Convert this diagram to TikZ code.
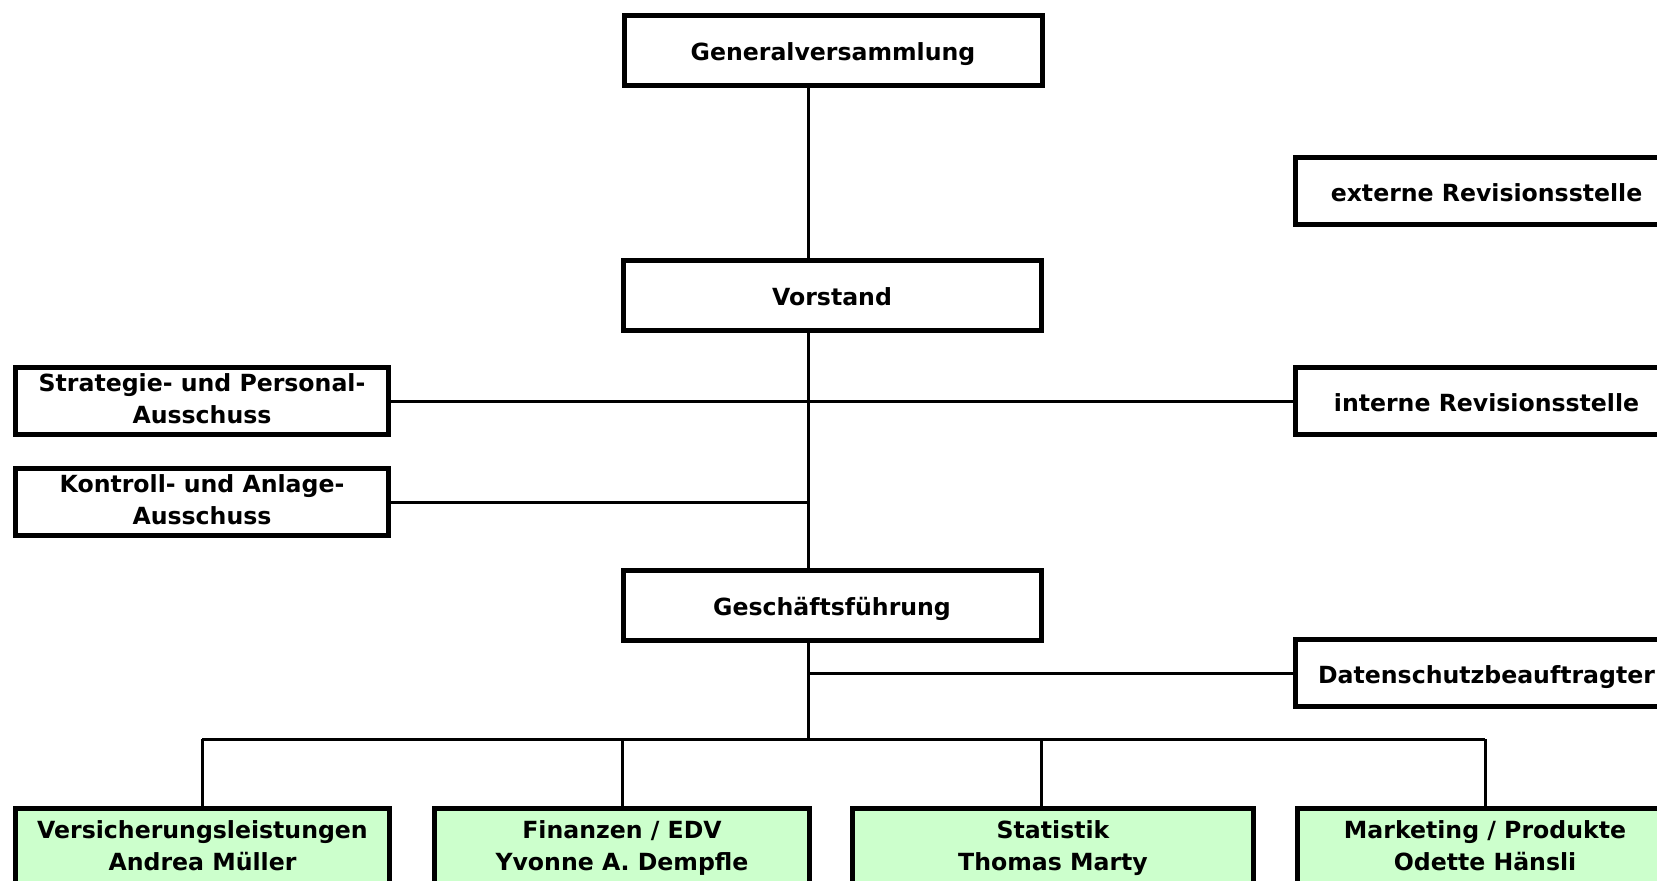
\documentclass[tikz,border=0pt]{standalone}
\usepackage{fontspec}
\setmainfont{DejaVu Sans}
\begin{document}
\begin{tikzpicture}[x=0.5pt,y=-0.5pt,
  box/.style={draw=black,line width=2.5pt,fill=white,inner sep=0pt,align=center,
    font=\fontsize{11.8}{16}\selectfont\bfseries,text=black},
  one/.style={text height=12pt,text depth=2pt},
  midbox/.style={box,one,minimum width=209pt,minimum height=35pt},
  rbox/.style={box,one,minimum width=191pt,minimum height=33.5pt},
  lbox/.style={box,minimum width=186.5pt,minimum height=33.5pt},
  unit/.style={box,fill=unitgreen,minimum height=39.5pt},
  conn/.style={line width=1.5pt,draw=black}]
\definecolor{unitgreen}{RGB}{204,255,204}
\useasboundingbox (0,0) rectangle (1657,880);
\clip (0,0) rectangle (1657,880);
\fill[white] (0,0) rectangle (1657,880);

\coordinate (m) at (808,0);
\coordinate (d1) at (202,739);
\coordinate (d2) at (622,739);
\coordinate (d3) at (1041,739);
\coordinate (d4) at (1485,739);

\node[midbox] (gv) at (833,50) {Generalversammlung};
\node[midbox] (vs) at (832,295) {Vorstand};
\node[midbox] (gf) at (832,605) {Geschäftsführung};
\node[rbox] (er) at (1486.5,191) {externe Revisionsstelle};
\node[rbox] (ir) at (1486.5,401) {interne Revisionsstelle};
\node[rbox] (ds) at (1486.5,673) {Datenschutzbeauftragter};
\node[lbox] (sp) at (202,401) {\strut Strategie- und Personal-\\\strut Ausschuss};
\node[lbox] (ka) at (202,502) {\strut Kontroll- und Anlage-\\\strut Ausschuss};
\node[unit,minimum width=187pt] (vl) at (202.5,848) {\strut Versicherungsleistungen\\\strut Andrea Müller};
\node[unit,minimum width=187.5pt] (fe) at (622,848) {\strut Finanzen / EDV\\\strut Yvonne A. Dempfle};
\node[unit,minimum width=200.5pt] (st) at (1053,848) {\strut Statistik\\\strut Thomas Marty};
\node[unit,minimum width=187.5pt] (mp) at (1485,848) {\strut Marketing / Produkte\\\strut Odette Hänsli};

\draw[conn] (gv.south -| m) -- (vs.north -| m);
\draw[conn] (vs.south -| m) -- (gf.north -| m);
\draw[conn] (gf.south -| m) -- (d1 -| m);
\draw[conn] (sp.east) -- (ir.west);
\draw[conn] (ka.east) -- (ka.east -| m);
\draw[conn] (ds.west -| m) -- (ds.west);
\draw[conn] (d1) -- (d4);
\draw[conn] (d1) -- (vl.north -| d1);
\draw[conn] (d2) -- (fe.north -| d2);
\draw[conn] (d3) -- (st.north -| d3);
\draw[conn] (d4) -- (mp.north -| d4);
\end{tikzpicture}
\end{document}
